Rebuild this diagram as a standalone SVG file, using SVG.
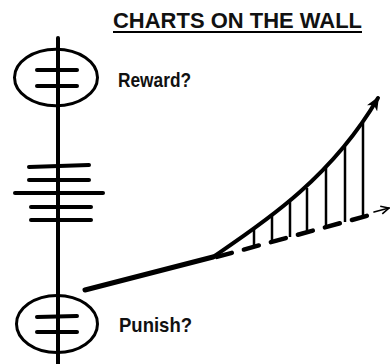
<svg xmlns="http://www.w3.org/2000/svg" width="390" height="364" viewBox="0 0 390 364">
  <style>
    .ln { stroke: #000; fill: none; stroke-linecap: round; }
    .bar { stroke: #000; stroke-width: 4; stroke-linecap: round; fill: none; }
    .ell { stroke: #000; stroke-width: 3; fill: none; }
    .lbl { font-family: "Liberation Sans", Arial, sans-serif; font-weight: bold; font-size: 21px; fill: #111; }
    .title { font-family: "Liberation Sans", Arial, sans-serif; font-weight: bold; font-size: 21.5px; fill: #111; }
    .hatch { stroke: #000; stroke-width: 2.5; }
  </style>
  <defs>
    <marker id="headFilled" markerUnits="userSpaceOnUse" viewBox="0 0 14 12" refX="12" refY="6" markerWidth="14" markerHeight="12" orient="auto">
      <path d="M0,0 L14,6 L0,12 L4,6 z" fill="#000"/>
    </marker>
    <marker id="headOpen" markerUnits="userSpaceOnUse" viewBox="0 0 10 10" refX="9" refY="5" markerWidth="10" markerHeight="10" orient="auto">
      <path d="M1,1 L9,5 L1,9" fill="none" stroke="#000" stroke-width="1.6"/>
    </marker>
  </defs>

  <g id="title">
    <text class="title" x="113" y="28" textLength="249" lengthAdjust="spacingAndGlyphs">CHARTS ON THE WALL</text>
    <line x1="113" y1="32" x2="362" y2="32" stroke="#000" stroke-width="2"/>
  </g>

  <g id="pole">
    <line class="ln" x1="58" y1="38" x2="58" y2="364" stroke-width="4" stroke-linecap="butt"/>
  </g>

  <g id="reward-node">
    <ellipse class="ell" cx="56" cy="77.5" rx="41.5" ry="28.3"/>
    <line class="bar" x1="37" y1="70" x2="77" y2="70"/>
    <line class="bar" x1="37" y1="86" x2="77" y2="86"/>
    <text class="lbl" x="118" y="87" textLength="73" lengthAdjust="spacingAndGlyphs">Reward?</text>
  </g>

  <g id="middle-bars">
    <line class="bar" x1="29" y1="167" x2="89" y2="165"/>
    <line class="bar" x1="29" y1="180" x2="89" y2="180"/>
    <line class="bar" x1="15" y1="193" x2="103" y2="193"/>
    <line class="bar" x1="31" y1="207" x2="91" y2="207"/>
    <line class="bar" x1="31" y1="220" x2="91" y2="220"/>
  </g>

  <g id="punish-node">
    <ellipse class="ell" cx="57" cy="324" rx="40.5" ry="28.5"/>
    <line class="bar" x1="37" y1="317" x2="77" y2="316"/>
    <line class="bar" x1="37" y1="332" x2="77" y2="332"/>
    <text class="lbl" x="119" y="332" textLength="73" lengthAdjust="spacingAndGlyphs">Punish?</text>
  </g>

  <g id="connectors">
    <line class="ln" x1="85" y1="290" x2="213" y2="257" stroke-width="5" stroke-linecap="butt"/>
    <path class="ln" d="M213,257 C260,225 330,180 378,98" stroke-width="4" marker-end="url(#headFilled)"/>
    <line class="ln" x1="213" y1="258" x2="370" y2="215" stroke-width="4.5" stroke-linecap="butt" stroke-dasharray="15.5 12.5" stroke-dashoffset="24"/>
    <line class="ln" x1="374" y1="212" x2="389" y2="208" stroke-width="1.6" marker-end="url(#headOpen)"/>
    <g id="hatching">
      <line class="hatch" x1="254" y1="229" x2="254" y2="247"/>
      <line class="hatch" x1="272" y1="216" x2="272" y2="242"/>
      <line class="hatch" x1="290" y1="202" x2="290" y2="237"/>
      <line class="hatch" x1="307" y1="188" x2="307" y2="232"/>
      <line class="hatch" x1="326" y1="168" x2="326" y2="227"/>
      <line class="hatch" x1="345" y1="147" x2="345" y2="222"/>
      <line class="hatch" x1="363" y1="123" x2="363" y2="217"/>
    </g>
  </g>
</svg>
